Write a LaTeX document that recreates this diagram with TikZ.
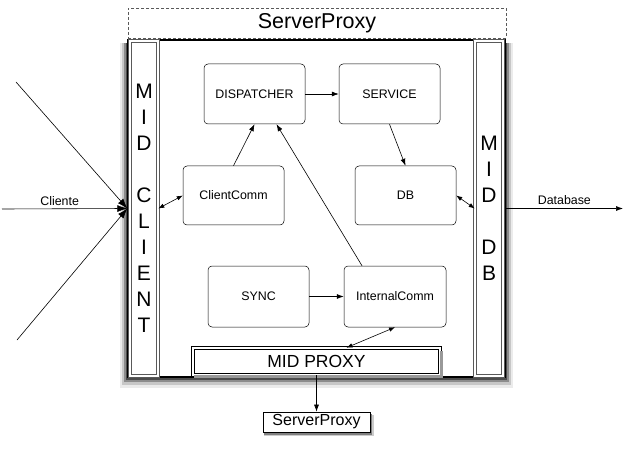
\documentclass[tikz,border=0pt]{standalone}
\usepackage{fontspec}
\setmainfont{Liberation Sans}
\usetikzlibrary{arrows.meta,backgrounds}

\begin{document}
\begin{tikzpicture}[x=1pt,y=-1pt,
  comp/.style={draw, rounded corners=4pt, minimum width=101pt, minimum height=60pt,
    line width=0.5pt, font=\fontsize{12.4}{14}\selectfont},
  colonne/.style={draw=black!65, double, double distance=2.2pt, line width=0.6pt, minimum width=28pt,
    minimum height=335pt, align=center, font=\fontsize{21}{26}\selectfont},
  fleche/.style={line width=0.6pt, -{Latex[length=7pt,width=5pt]}},
  dfleche/.style={line width=0.6pt, {Latex[length=6pt,width=4.5pt]}-{Latex[length=6pt,width=4.5pt]}},
  grosse/.style={line width=0.6pt, -{Latex[length=10pt,width=7pt]}},
  lbl/.style={font=\fontsize{12.4}{14}\selectfont}]
  \useasboundingbox (0,0) rectangle (623,454);

  \node[draw, dashed, dash pattern=on 3pt off 2pt, gray!70!black, text=black, line width=0.6pt,
    minimum width=378pt, minimum height=30pt, font=\fontsize{21.5}{24}\selectfont]
    (proxytop) at (317,23) {ServerProxy};

  % conteneur principal
  \node[draw, line width=1.4pt, fill=white, minimum width=377pt, minimum height=337pt]
    (server) at (316.5,208.5) {};
  \node[colonne] (midclient) at (144,208.5) {M\\I\\D\\\mbox{}\\C\\L\\I\\E\\N\\T};
  \node[colonne] (middb) at (489,208.5) {M\\I\\D\\\mbox{}\\D\\B};

  \node[comp] (dispatcher) at (254.5,94) {DISPATCHER};
  \node[comp] (service) at (389.5,94) {SERVICE};
  \node[comp, minimum height=59pt] (clientcomm) at (233.5,195.5) {ClientComm};
  \node[comp, minimum height=59pt] (db) at (405.5,195.5) {DB};
  \node[comp, minimum height=61pt] (sync) at (258.5,296.5) {SYNC};
  \node[comp, minimum height=61pt, minimum width=102pt] (internalcomm) at (395,296.5) {InternalComm};

  \node[draw, double, double distance=2.2pt, line width=0.6pt, fill=white,
    minimum width=247pt, minimum height=27pt, font=\fontsize{17.5}{20}\selectfont]
    (midproxy) at (316.5,361.5) {MID PROXY};
  \node[draw, line width=0.7pt, fill=white, minimum width=107pt, minimum height=20pt,
    inner sep=1pt, font=\fontsize{16}{18}\selectfont]
    (proxyout) at (316.5,422) {ServerProxy};

  % ombres
  \begin{scope}[on background layer]
    \fill[black!8] ([xshift=-7pt,yshift=-10pt]server.south west) rectangle ([xshift=7pt,yshift=-4pt]server.north east);
    \fill[black!22] ([xshift=-5pt,yshift=-7pt]server.south west) rectangle ([xshift=5pt,yshift=-4pt]server.north east);
    \fill[black!45] ([xshift=-3pt,yshift=-4pt]server.south west) rectangle ([xshift=3pt,yshift=-4pt]server.north east);
    \fill[black!70] ([xshift=-1pt,yshift=-2pt]server.south west) rectangle ([xshift=1pt,yshift=-4pt]server.north east);
    \fill[black!20] ([xshift=1pt,yshift=-4pt]proxyout.south west) rectangle ([xshift=3.5pt,yshift=-3pt]proxyout.north east);
    \fill[black!50] ([xshift=1pt,yshift=-2.5pt]proxyout.south west) rectangle ([xshift=2pt,yshift=-2.5pt]proxyout.north east);
  \end{scope}
  \fill[black!40] ([xshift=1pt,yshift=-2.5pt]midproxy.south west) rectangle ([xshift=2.5pt]midproxy.south east);
  \fill[black!40] ([xshift=2.5pt]midproxy.south east) rectangle ([yshift=-3pt]midproxy.north east);

  \draw[fleche] (dispatcher) -- (service);
  \draw[fleche] (service.south) -- (db.north);
  \draw[fleche] (clientcomm.north) -- (dispatcher.south);
  \draw[fleche] ([xshift=-33pt]internalcomm.north) -- ([xshift=22pt]dispatcher.south);
  \draw[fleche] (sync) -- (internalcomm);
  \draw[dfleche] (internalcomm.south) -- ([xshift=30pt]midproxy.north);
  \draw[fleche] (midproxy.south) -- (proxyout.north);
  \draw[dfleche] (clientcomm.west) -- (midclient.east);
  \draw[dfleche] (db.east) -- (middb.west);

  % clients et base de donnees
  \coordinate (c1) at (16,82);
  \coordinate (c2) at (2,209);
  \coordinate (c3) at (17,340);
  \coordinate (dbout) at (623,208.5);
  \draw[grosse] (c1) -- (server.west);
  \draw[grosse] (c2) -- node[lbl, pos=0.46, above] {Cliente} (server.west);
  \draw[grosse] (c3) -- (server.west);
  \draw[fleche] (server.east) -- node[lbl, above] {Database} (dbout);
\end{tikzpicture}
\end{document}
